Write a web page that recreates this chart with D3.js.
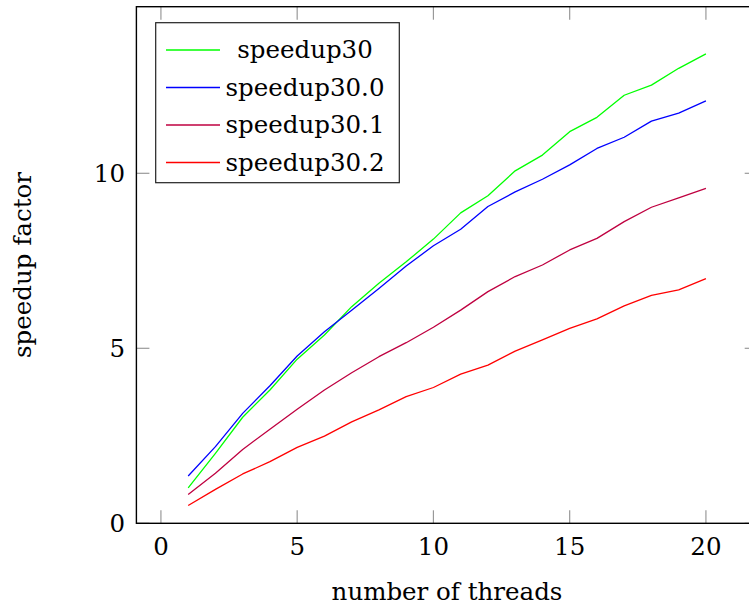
<!DOCTYPE html>
<html><head><meta charset="utf-8">
<script src="https://cdn.jsdelivr.net/npm/d3@7"></script>
<style>
html,body{margin:0;padding:0;background:#fff;}
svg{display:block;}
</style></head>
<body>
<script>
const threads = [1,2,3,4,5,6,7,8,9,10,11,12,13,14,15,16,17,18,19,20];
const seriesNames = ["speedup30","speedup30.0","speedup30.1","speedup30.2"];
const speedup30  = [1.01,2.0,3.03,3.81,4.69,5.38,6.19,6.86,7.47,8.12,8.87,9.36,10.07,10.52,11.19,11.6,12.23,12.52,13.0,13.41];
const speedup300 = [1.35,2.19,3.14,3.93,4.78,5.47,6.09,6.71,7.35,7.93,8.4,9.05,9.47,9.83,10.24,10.71,11.03,11.49,11.72,12.07];
const speedup301 = [0.82,1.43,2.11,2.69,3.26,3.81,4.30,4.76,5.16,5.6,6.09,6.62,7.05,7.38,7.81,8.14,8.62,9.03,9.30,9.57];
const speedup302 = [0.51,0.97,1.41,1.76,2.17,2.49,2.90,3.24,3.62,3.88,4.26,4.52,4.92,5.24,5.57,5.84,6.21,6.51,6.67,6.99];
const seriesColors = ["#00ff00","#0000ff","#bf0040","#ff0000"];
const xTicks = [0,5,10,15,20];
const yTicks = [0,5,10];

const W = 749, H = 607;
const FONT = "'DejaVu Serif', serif";
const plot = {left:136.4, right:757.7, top:6.7, bottom:523.3};
const x = d3.scaleLinear().domain([-0.9,21.9]).range([plot.left, plot.right]);
const y = d3.scaleLinear().domain([0,14.76]).range([plot.bottom, plot.top]);

const svg = d3.select("body").append("svg").attr("width",W).attr("height",H)
  .attr("font-family",FONT);

const tickLen = 13;
const tickColor = "#999";
const gt = svg.append("g").attr("stroke",tickColor).attr("stroke-width",1.2);
xTicks.forEach(t=>{
  gt.append("line").attr("x1",x(t)).attr("x2",x(t)).attr("y1",plot.bottom).attr("y2",plot.bottom-tickLen);
  gt.append("line").attr("x1",x(t)).attr("x2",x(t)).attr("y1",plot.top).attr("y2",plot.top+tickLen);
});
yTicks.forEach(t=>{
  gt.append("line").attr("y1",y(t)).attr("y2",y(t)).attr("x1",plot.left).attr("x2",plot.left+tickLen);
  gt.append("line").attr("y1",y(t)).attr("y2",y(t)).attr("x1",plot.right).attr("x2",plot.right-tickLen);
});

const data = [speedup30, speedup300, speedup301, speedup302];
const line = d3.line().x((d,i)=>x(threads[i])).y(d=>y(d));
data.forEach((s,k)=>{
  svg.append("path").datum(s).attr("d",line).attr("fill","none")
    .attr("stroke",seriesColors[k]).attr("stroke-width",1.3).attr("stroke-linejoin","round");
});

svg.append("rect").attr("x",plot.left).attr("y",plot.top)
  .attr("width",plot.right-plot.left).attr("height",plot.bottom-plot.top)
  .attr("fill","none").attr("stroke","#000").attr("stroke-width",1.4);

const fs = 24.5;
function txt(g){ return g.append("text").attr("font-family",FONT).attr("font-size",fs).attr("fill","#000"); }
xTicks.forEach(t=>{
  txt(svg).attr("x",x(t)).attr("y",555).attr("text-anchor","middle").text(t);
});
yTicks.forEach(t=>{
  txt(svg).attr("x",125).attr("y",y(t)+9).attr("text-anchor","end").text(t);
});

txt(svg).attr("x",447).attr("y",600).attr("text-anchor","middle").text("number of threads");
txt(svg).attr("transform","translate(31,265) rotate(-90)").attr("text-anchor","middle").text("speedup factor");

const lg = svg.append("g");
lg.append("rect").attr("x",155.7).attr("y",22.7).attr("width",243.6).attr("height",160)
  .attr("fill","#fff").attr("stroke","#222").attr("stroke-width",1.2);
const rowY = [50,87.5,125,162.5];
seriesNames.forEach((n,k)=>{
  lg.append("line").attr("x1",166).attr("x2",220).attr("y1",rowY[k]).attr("y2",rowY[k])
    .attr("stroke",seriesColors[k]).attr("stroke-width",1.3);
  txt(lg).attr("x",305).attr("y",rowY[k]+8).attr("text-anchor","middle").text(n);
});
</script>
</body></html>
